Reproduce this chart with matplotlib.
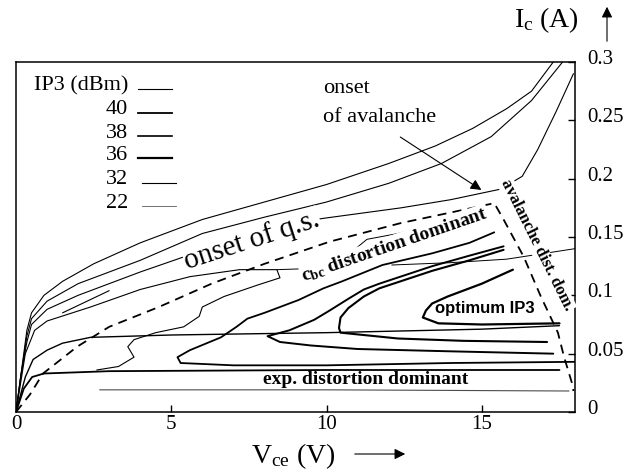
import matplotlib
matplotlib.use('Agg')
import matplotlib.pyplot as plt
from matplotlib.transforms import ScaledTranslation

plt.rcParams['font.family'] = ['Liberation Serif', 'DejaVu Serif']
plt.rcParams['mathtext.fontset'] = 'custom'
plt.rcParams['mathtext.rm'] = 'Liberation Serif'
plt.rcParams['mathtext.it'] = 'Liberation Serif:italic'
plt.rcParams['mathtext.bf'] = 'Liberation Serif:bold'

# IP3 contour traces, Vce (V) / Ic (A)
a_v = [0, 0.15, 0.35, 0.5, 0.9, 1.5, 2.5, 4, 6, 8, 10, 12, 13.5, 14.7, 15.8, 16.6, 17.3]
a_i = [0, 0.03, 0.07, 0.085, 0.1, 0.112, 0.127, 0.145, 0.165, 0.18, 0.195, 0.213, 0.228, 0.243, 0.26, 0.275, 0.3]

b_v = [0, 0.15, 0.35, 0.5, 1, 2, 3, 4, 6, 8, 10, 12, 13.7, 15.3, 16.6, 17.6]
b_i = [0, 0.03, 0.065, 0.08, 0.095, 0.11, 0.12, 0.13, 0.153, 0.167, 0.18, 0.196, 0.213, 0.236, 0.267, 0.3]

c_v = [0, 0.15, 0.35, 0.5, 1, 2, 3, 4, 5.3, 7, 8.5, 9.9, 12.4, 14, 15.6, 16.3, 16.8, 17.4, 17.95]
c_i = [0, 0.03, 0.06, 0.075, 0.088, 0.1, 0.11, 0.12, 0.132, 0.148, 0.16, 0.166, 0.175, 0.182, 0.191, 0.202, 0.225, 0.258, 0.29]

s_v = [1.5, 3.0]
s_i = [0.085, 0.104]

d_v = [0, 0.3, 0.6, 1, 2.4, 4, 5.6, 7.2, 8.4, 8.5, 7.8, 6.7, 6.0, 5.9, 5.4, 4.5, 3.8, 3.6, 3.8, 3.3, 2.6]
d_i = [0, 0.05, 0.07, 0.078, 0.09, 0.105, 0.116, 0.122, 0.122, 0.115, 0.109, 0.099, 0.09, 0.082, 0.073, 0.068,
       0.062, 0.056, 0.047, 0.039, 0.036]

w_v = [8.4, 9.5, 10.4, 10.8, 11.3, 12.3, 13.0]
w_i = [0.122, 0.123, 0.126, 0.137, 0.148, 0.153, 0.158]

h066_v = [0, 0.3, 0.55, 1, 1.5, 2.4, 5, 10, 15, 17.5]
h066_i = [0, 0.03, 0.045, 0.053, 0.059, 0.064, 0.066, 0.068, 0.071, 0.074]

h036_v = [0, 0.25, 0.52, 0.9, 3, 10, 17.5]
h036_i = [0, 0.02, 0.03, 0.033, 0.035, 0.036, 0.036]

h018_v = [2.7, 10, 17.8]
h018_i = [0.019, 0.019, 0.018]

thin_v = [12.1, 14, 15.8, 18]
thin_i = [0.126, 0.128, 0.131, 0.14]

c2_v = [18, 14, 10, 7, 5.3, 5.2, 5.6, 6.6, 7.1, 7.45, 8, 8.4, 9.1, 9.9, 10.5, 11.8, 13.4, 14.6, 15.4]
c2_i = [0.043, 0.042, 0.04, 0.04, 0.042, 0.047, 0.053, 0.064, 0.073, 0.08, 0.085, 0.089, 0.096, 0.106, 0.112,
        0.126, 0.136, 0.145, 0.154]

o3_v = [17.3, 14, 11, 9.5, 8.5, 8.1, 8.8, 9.6, 10.1, 10.7, 11.2, 11.7, 13.4, 14.6, 15.7]
o3_i = [0.05, 0.052, 0.054, 0.057, 0.06, 0.065, 0.07, 0.079, 0.087, 0.097, 0.105, 0.11, 0.125, 0.134, 0.142]

o2_v = [17.1, 14.4, 12.3, 10.45, 10.4, 10.45, 10.7, 11.2, 11.7, 13.4, 14.6, 15.7]
o2_i = [0.06, 0.061, 0.063, 0.068, 0.072, 0.081, 0.089, 0.099, 0.106, 0.121, 0.13, 0.139]

o1_v = [17.5, 15, 13.6, 13.1, 13.2, 13.4, 13.9, 15, 16]
o1_i = [0.076, 0.075, 0.076, 0.081, 0.087, 0.093, 0.099, 0.11, 0.122]

# onset of quasi-saturation, closed off by the avalanche boundary
qs_v = [0, 0.45, 0.87, 1.97, 3.0, 4.6, 6.3, 8, 10.1, 12.4, 14, 15.4, 15.7, 16.35, 16.9, 17.45, 17.65, 17.9, 17.95]
qs_i = [0, 0.015, 0.033, 0.056, 0.073, 0.09, 0.11, 0.127, 0.146, 0.162, 0.171, 0.179, 0.165, 0.133, 0.099,
        0.068, 0.047, 0.025, 0.018]

legend_labels = ['IP3 (dBm)', '40', '38', '36', '32', '22']

fig = plt.figure(figsize=(6.4, 4.72), dpi=100)
ax = fig.add_axes([16 / 640, 60 / 472, 559 / 640, 350 / 472])

k = dict(color='black', solid_capstyle='round', solid_joinstyle='round')
ax.plot(a_v, a_i, lw=0.8, **k)
ax.plot(b_v, b_i, lw=0.8, **k)
ax.plot(c_v, c_i, lw=0.8, **k)
ax.plot(s_v, s_i, lw=0.8, **k)
ax.plot(d_v, d_i, lw=0.8, **k)
ax.plot(w_v, w_i, lw=0.7, **k)
ax.plot(h066_v, h066_i, lw=1.0, **k)
ax.plot(h036_v, h036_i, lw=1.3, **k)
ax.plot(h018_v, h018_i, lw=0.8, color='0.3')
ax.plot(thin_v, thin_i, lw=0.7, **k)
ax.plot(c2_v, c2_i, lw=1.3, **k)
ax.plot(o3_v, o3_i, lw=1.4, **k)
ax.plot(o2_v, o2_i, lw=1.5, **k)
ax.plot(o1_v, o1_i, lw=1.6, **k)
ax.plot(qs_v, qs_i, lw=1.3, color='black', dashes=(5, 3.5))

ax.set_xlim(0, 18)
ax.set_ylim(0, 0.3)
ax.set_xticks([0, 5, 10, 15])
ax.set_xticklabels(['0', '5', '10', '15'])
ax.set_yticks([0, 0.05, 0.1, 0.15, 0.2, 0.25, 0.3])
ax.set_yticklabels(['0', '0.05', '0.1', '0.15', '0.2', '0.25', '0.3'])
ax.yaxis.tick_right()
ax.tick_params(axis='both', direction='in', length=5, width=1, labelsize=15)
ax.tick_params(axis='x', pad=2)
ax.tick_params(axis='y', pad=8.5)
for lab in ax.get_yticklabels():
    lab.set_transform(lab.get_transform() + ScaledTranslation(0, 0.05, fig.dpi_scale_trans))
for sp in ax.spines.values():
    sp.set_linewidth(1.1)

wbox = dict(facecolor='white', edgecolor='none', pad=0.5)
ax.text(7.6, 0.147, 'onset of q.s.', fontsize=21, rotation=18, ha='center', va='center',
        rotation_mode='anchor', bbox=wbox, zorder=5)
ax.text(12.2, 0.143, r'c$_{\mathbf{bc}}$ distortion dominant', fontsize=14, fontweight='bold',
        rotation=19, ha='center', va='center', rotation_mode='anchor', bbox=wbox, zorder=5)
ax.text(16.77, 0.143, 'avalanche dist. dom.', fontsize=12, fontweight='bold', rotation=-63.5,
        ha='center', va='center', rotation_mode='anchor', bbox=wbox, zorder=5)
ax.text(11.26, 0.0275, 'exp. distortion dominant', fontsize=14, fontweight='bold', ha='center', va='center')
ax.text(15.1, 0.089, 'optimum IP3', fontsize=12, fontweight='bold', family='Liberation Sans',
        ha='center', va='center')
ax.text(9.9, 0.277, 'onset', fontsize=16, ha='left', va='center')
ax.text(9.9, 0.252, 'of avalanche', fontsize=16, ha='left', va='center')
ax.annotate('', xy=(15.06, 0.189), xytext=(12.3, 0.237),
            arrowprops=dict(arrowstyle='-|>', color='black', lw=0.8, mutation_scale=16))

# legend block in the upper left corner
leg_y = [86, 110, 133, 155, 180, 203]
leg_lw = [0.8, 1.3, 1.2, 1.6, 0.8, 0.6]
leg_col = ['black', 'black', 'black', 'black', 'black', '0.35']
for lab, y, lw, col in zip(legend_labels, leg_y, leg_lw, leg_col):
    fig.text(128 / 640, 1 - y / 472, lab, fontsize=16, ha='right', va='center')
    x0 = 138 if y < 170 else 142
    fig.add_artist(plt.Line2D([x0 / 640, (x0 + 34) / 640], [1 - (y + 3) / 472] * 2, lw=lw, color=col))

# axis titles with direction arrows
fig.text(546 / 640, 1 - 20 / 472, r'I$_\mathrm{c}$ (A)', fontsize=20, ha='center', va='center')
fig.text(293 / 640, 1 - 456 / 472, r'V$_\mathrm{ce}$ (V)', fontsize=20, ha='center', va='center')
fig.add_artist(matplotlib.patches.FancyArrowPatch((607 / 640, 1 - 44 / 472), (607 / 640, 1 - 4 / 472),
               transform=fig.transFigure, arrowstyle='-|>', mutation_scale=16, lw=0.8, color='black'))
fig.add_artist(matplotlib.patches.FancyArrowPatch((352 / 640, 1 - 454 / 472), (408 / 640, 1 - 454 / 472),
               transform=fig.transFigure, arrowstyle='-|>', mutation_scale=16, lw=0.8, color='black'))

fig.savefig('out.png', dpi=100)
